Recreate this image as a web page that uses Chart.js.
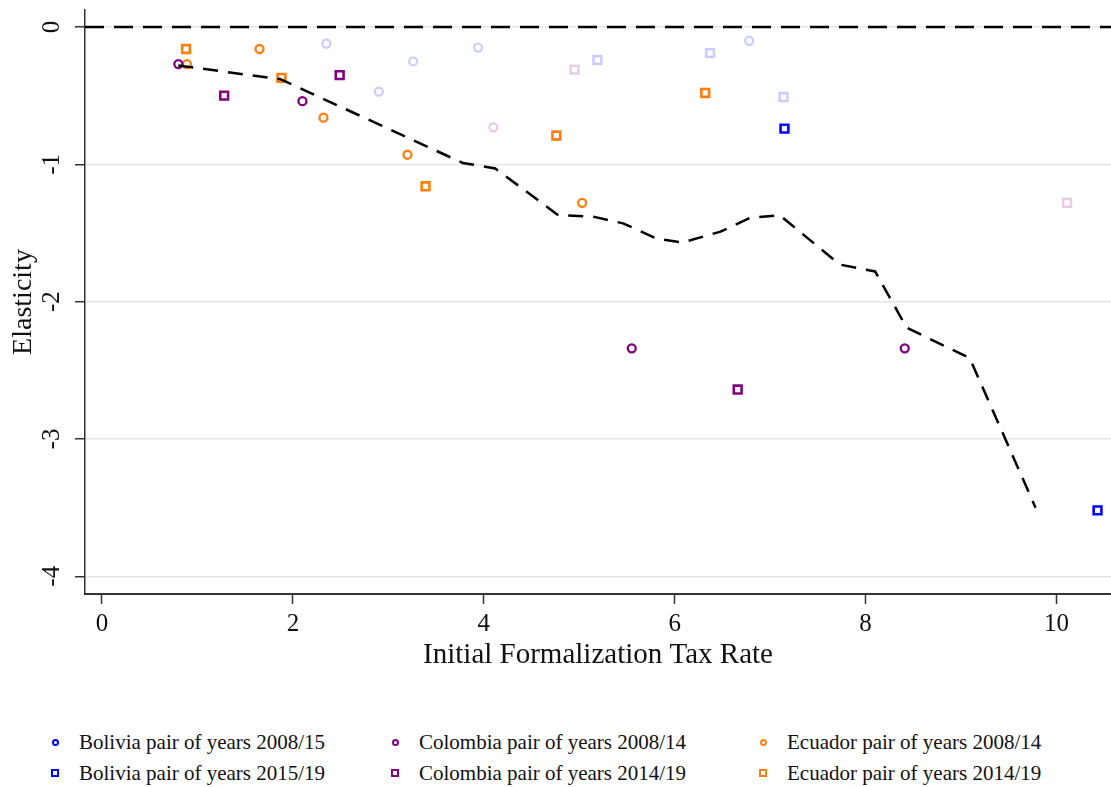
<!DOCTYPE html>
<html>
<head>
<meta charset="utf-8">
<script src="https://cdn.jsdelivr.net/npm/chart.js@4/dist/chart.umd.min.js"></script>
<style>
  body { margin: 0; background: #fff; }
  #wrap { position: relative; width: 1111px; height: 787px; }
  #legend .item {
    position: absolute; display: flex; align-items: center; height: 26px;
    font: 21px "Liberation Serif", serif; color: #111; white-space: nowrap;
  }
  #legend .mk {
    width: 10px; height: 10px; margin-right: 19px;
    display: flex; align-items: center; justify-content: center;
  }
</style>
</head>
<body>
<div id="wrap">
  <canvas id="elasticityChart" width="1111" height="690"></canvas>
  <div id="legend"></div>
</div>
<script>
// x axis range / ticks
var xMin = -0.178, xMax = 10.571;
var yMin = -4.129, yMax = 0.124;
var zeroLine = 0;

// dashed fitted curve
var fitX = [0.80, 1.87, 3.78, 4.12, 4.78, 5.14, 5.46, 5.81, 6.08, 6.48, 6.79, 7.10, 7.73, 8.10, 8.43, 9.09, 9.78];
var fitY = [-0.28, -0.38, -0.99, -1.03, -1.37, -1.38, -1.43, -1.54, -1.57, -1.49, -1.39, -1.37, -1.73, -1.78, -2.19, -2.41, -3.50];

// Bolivia 2008/15
var bol0815X = [];
var bol0815Y = [];
var bol0815FaintX = [2.35, 2.90, 3.26, 3.94, 6.78];
var bol0815FaintY = [-0.12, -0.47, -0.25, -0.15, -0.10];

// Bolivia 2015/19
var bol1519X = [7.15, 10.43];
var bol1519Y = [-0.74, -3.52];
var bol1519FaintX = [5.19, 6.37, 7.14];
var bol1519FaintY = [-0.24, -0.19, -0.51];

// Colombia 2008/14
var col0814X = [0.80, 2.10, 5.55, 8.41];
var col0814Y = [-0.27, -0.54, -2.34, -2.34];
var col0814FaintX = [4.10];
var col0814FaintY = [-0.73];

// Colombia 2014/19
var col1419X = [1.28, 2.49, 6.66];
var col1419Y = [-0.50, -0.35, -2.64];
var col1419FaintX = [4.95, 10.11];
var col1419FaintY = [-0.31, -1.28];

// Ecuador
var ecu0814X = [0.89, 1.65, 2.32, 3.20, 5.03];
var ecu0814Y = [-0.27, -0.16, -0.66, -0.93, -1.28];
var ecu1419X = [0.88, 1.88, 3.39, 4.76, 6.32];
var ecu1419Y = [-0.16, -0.37, -1.16, -0.79, -0.48];

var blue = "#0000ff", purple = "#800080", orange = "#ff7f0e";
var blueFaint = "rgba(0,0,255,0.2)", purpleFaint = "rgba(128,0,128,0.2)";

function pts(xs, ys) {
  return xs.map(function (x, i) { return { x: x, y: ys[i] }; });
}

function markers(label, xs, ys, color, style, inLegend) {
  var square = style === "rect";
  return {
    label: label,
    data: pts(xs, ys),
    showLine: false,
    pointStyle: style,
    pointRadius: square ? 5.5 : 4,
    pointHoverRadius: square ? 5.5 : 4,
    pointBorderWidth: square ? 2.6 : 2.3,
    pointBorderColor: color,
    pointBackgroundColor: "#fff",
    borderColor: color,
    inLegend: inLegend,
    order: 2
  };
}

var datasets = [
  {
    label: "zero",
    data: [{ x: xMin, y: zeroLine }, { x: xMax, y: zeroLine }],
    showLine: true, borderColor: "#000", borderWidth: 2.6, borderDash: [19, 10],
    pointRadius: 0, order: 3
  },
  markers("Bolivia faint 2008/15", bol0815FaintX, bol0815FaintY, blueFaint, "circle", false),
  markers("Bolivia faint 2015/19", bol1519FaintX, bol1519FaintY, blueFaint, "rect", false),
  markers("Colombia faint 2008/14", col0814FaintX, col0814FaintY, purpleFaint, "circle", false),
  markers("Colombia faint 2014/19", col1419FaintX, col1419FaintY, purpleFaint, "rect", false),
  markers("Bolivia pair of years 2008/15", bol0815X, bol0815Y, blue, "circle", true),
  markers("Bolivia pair of years 2015/19", bol1519X, bol1519Y, blue, "rect", true),
  markers("Colombia pair of years 2008/14", col0814X, col0814Y, purple, "circle", true),
  markers("Colombia pair of years 2014/19", col1419X, col1419Y, purple, "rect", true),
  markers("Ecuador pair of years 2008/14", ecu0814X, ecu0814Y, orange, "circle", true),
  markers("Ecuador pair of years 2014/19", ecu1419X, ecu1419Y, orange, "rect", true),
  {
    label: "fit",
    data: pts(fitX, fitY),
    showLine: true, borderColor: "#000", borderWidth: 2.5, borderDash: [15, 10],
    pointRadius: 0, tension: 0, order: 1
  }
];

// rotated y tick labels like the original
var yTickLabels = {
  id: "yTickLabels",
  afterDraw: function (chart) {
    var ctx = chart.ctx, y = chart.scales.y;
    ctx.save();
    ctx.font = '25px "Liberation Serif"';
    ctx.fillStyle = "#111";
    ctx.textAlign = "center";
    ctx.textBaseline = "middle";
    y.ticks.forEach(function (t) {
      ctx.save();
      ctx.translate(52, y.getPixelForValue(t.value));
      ctx.rotate(-Math.PI / 2);
      ctx.fillText(String(t.value), 0, 0);
      ctx.restore();
    });
    ctx.restore();
  }
};

var ctx = document.getElementById("elasticityChart").getContext("2d");
var chart = new Chart(ctx, {
  type: "scatter",
  data: { datasets: datasets },
  plugins: [yTickLabels],
  options: {
    responsive: false,
    animation: false,
    layout: { autoPadding: false, padding: { top: 10, left: 0, right: 0, bottom: 0 } },
    plugins: { legend: { display: false }, tooltip: { enabled: false } },
    scales: {
      x: {
        type: "linear",
        min: xMin, max: xMax,
        afterFit: function (s) { s.height = 96; s.paddingLeft = 0; s.paddingRight = 0; },
        ticks: {
          stepSize: 2, includeBounds: false, padding: 5, color: "#111",
          font: { family: "Liberation Serif", size: 25, lineHeight: 1.2 }
        },
        grid: { display: true, drawOnChartArea: false, drawTicks: true, tickLength: 10, tickColor: "#333", tickWidth: 1.5 },
        border: { color: "#333", width: 2 },
        title: {
          display: true, text: "Initial Formalization Tax Rate", color: "#111",
          font: { family: "Liberation Serif", size: 29, lineHeight: 1 },
          padding: { top: 0, bottom: 20 }
        }
      },
      y: {
        type: "linear",
        min: yMin, max: yMax,
        afterFit: function (s) { s.width = 85; s.paddingTop = 0; s.paddingBottom = 0; },
        ticks: { display: false, stepSize: 1, includeBounds: false },
        grid: { color: "#e6e6e6", lineWidth: 1.5, drawTicks: true, tickLength: 10, tickColor: "#333", tickWidth: 1.5 },
        border: { color: "#333", width: 1.5 },
        title: {
          display: true, text: "Elasticity", color: "#111",
          font: { family: "Liberation Serif", size: 28, lineHeight: 1 },
          padding: { top: 10, bottom: 0 }
        }
      }
    }
  }
});

// legend: three columns (country) by two rows (period)
var legendCols = [55, 395, 763];
var legendRows = [742, 773];
var legendBox = document.getElementById("legend");
chart.data.datasets.filter(function (d) { return d.inLegend; }).forEach(function (d, i) {
  var col = Math.floor(i / 2), row = i % 2;
  var item = document.createElement("div");
  item.className = "item";
  item.style.left = (legendCols[col] - 5) + "px";
  item.style.top = (legendRows[row] - 13) + "px";
  var mk = document.createElement("span");
  mk.className = "mk";
  var shape = document.createElement("span");
  shape.style.boxSizing = "border-box";
  shape.style.border = "2px solid " + d.borderColor;
  if (d.pointStyle === "circle") {
    shape.style.width = "7px"; shape.style.height = "7px"; shape.style.borderRadius = "50%";
  } else {
    shape.style.width = "8px"; shape.style.height = "8px";
  }
  mk.appendChild(shape);
  item.appendChild(mk);
  item.appendChild(document.createTextNode(d.label));
  legendBox.appendChild(item);
});
</script>
</body>
</html>
